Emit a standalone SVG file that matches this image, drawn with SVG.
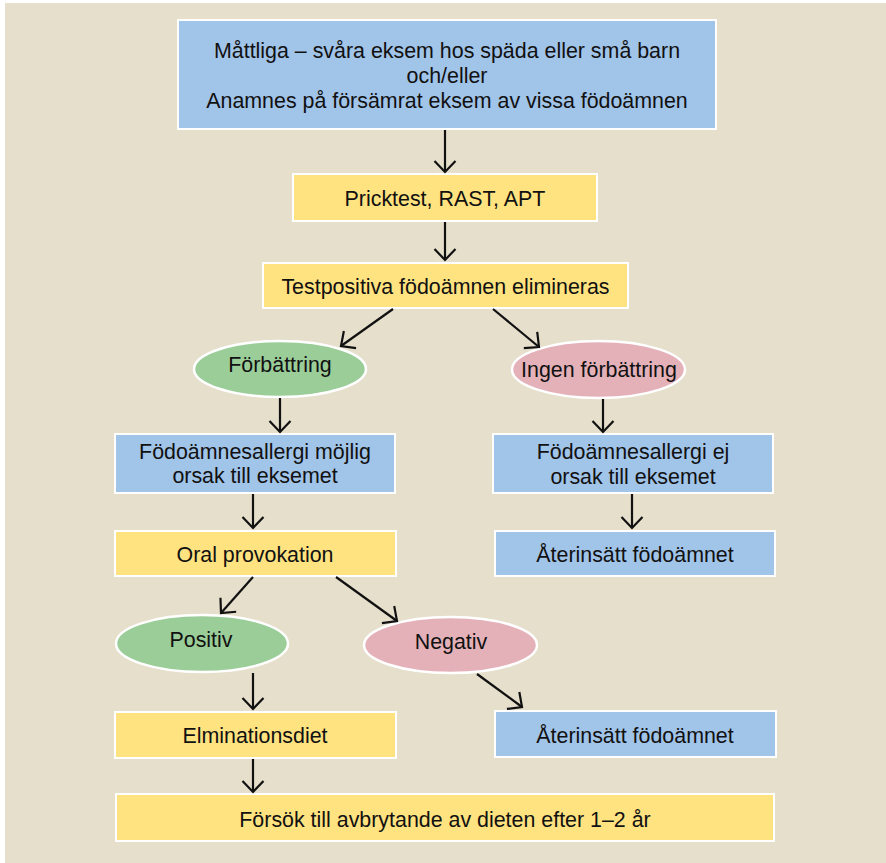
<svg xmlns="http://www.w3.org/2000/svg" width="886" height="863" viewBox="0 0 886 863">
  <style>
    .bg { fill: #E6DFCC; }
    .blue { fill: #A1C4E9; stroke: #FFFFFF; stroke-width: 2; }
    .yellow { fill: #FFE380; stroke: #FFFFFF; stroke-width: 2; }
    .green { fill: #9BCD99; stroke: #FFFFFF; stroke-width: 2.5; }
    .pink { fill: #E5B1B9; stroke: #FFFFFF; stroke-width: 2.5; }
    text { font-family: "Liberation Sans", Arial, Helvetica, sans-serif; font-size: 21.4px; fill: #111111; text-anchor: middle; }
    .conn line { stroke: #111111; stroke-width: 2.2; fill: none; marker-end: url(#arrow); }
  </style>
  <defs>
    <marker id="arrow" markerUnits="userSpaceOnUse" markerWidth="30" markerHeight="30" refX="0" refY="0" viewBox="-15 -15 30 30" orient="auto">
      <path d="M-11,-10.5 L0,0 L-11,10.5" fill="none" stroke="#111111" stroke-width="2.2" stroke-linejoin="miter"/>
    </marker>
  </defs>

  <rect class="bg" x="5" y="3" width="881" height="860"/>

  <g id="start">
    <rect class="blue" x="178" y="20" width="538" height="109"/>
    <text x="447" y="58">Måttliga – svåra eksem hos späda eller små barn</text>
    <text x="447" y="83">och/eller</text>
    <text x="447" y="108">Anamnes på försämrat eksem av vissa födoämnen</text>
  </g>

  <g id="pricktest">
    <rect class="yellow" x="293" y="174" width="304" height="47"/>
    <text x="445" y="206">Pricktest, RAST, APT</text>
  </g>

  <g id="eliminate">
    <rect class="yellow" x="263" y="263" width="365" height="45"/>
    <text x="445.5" y="294">Testpositiva födoämnen elimineras</text>
  </g>

  <g id="improved">
    <ellipse class="green" cx="280" cy="369" rx="86" ry="28"/>
    <text x="280" y="372">Förbättring</text>
  </g>

  <g id="not-improved">
    <ellipse class="pink" cx="598.5" cy="369.5" rx="86.5" ry="28.5"/>
    <text x="599" y="377">Ingen förbättring</text>
  </g>

  <g id="allergy-possible">
    <rect class="blue" x="115" y="434" width="280" height="59"/>
    <text x="255" y="459">Födoämnesallergi möjlig</text>
    <text x="255" y="483">orsak till eksemet</text>
  </g>

  <g id="allergy-not-cause">
    <rect class="blue" x="493" y="434" width="280" height="59"/>
    <text x="633" y="459">Födoämnesallergi ej</text>
    <text x="633" y="484">orsak till eksemet</text>
  </g>

  <g id="oral-provocation">
    <rect class="yellow" x="115" y="531" width="281" height="45"/>
    <text x="255" y="562">Oral provokation</text>
  </g>

  <g id="reintroduce-1">
    <rect class="blue" x="495" y="531" width="280" height="45"/>
    <text x="635" y="562">Återinsätt födoämnet</text>
  </g>

  <g id="positive">
    <ellipse class="green" cx="202" cy="643.5" rx="86" ry="28.5"/>
    <text x="201" y="647">Positiv</text>
  </g>

  <g id="negative">
    <ellipse class="pink" cx="450.5" cy="645" rx="86.5" ry="28"/>
    <text x="451" y="649">Negativ</text>
  </g>

  <g id="elimination-diet">
    <rect class="yellow" x="115" y="712" width="281" height="46"/>
    <text x="255" y="743">Elminationsdiet</text>
  </g>

  <g id="reintroduce-2">
    <rect class="blue" x="495" y="711" width="281" height="46"/>
    <text x="635" y="743">Återinsätt födoämnet</text>
  </g>

  <g id="stop-diet">
    <rect class="yellow" x="116" y="794" width="658" height="47"/>
    <text x="445" y="827">Försök till avbrytande av dieten efter 1–2 år</text>
  </g>

  <g id="connectors" class="conn">
    <line x1="445" y1="130" x2="445" y2="172"/>
    <line x1="445" y1="222" x2="445" y2="260"/>
    <line x1="393" y1="309" x2="341" y2="346"/>
    <line x1="493" y1="309" x2="539" y2="347"/>
    <line x1="280" y1="398" x2="280" y2="432"/>
    <line x1="603" y1="399" x2="603" y2="432"/>
    <line x1="253" y1="494" x2="253" y2="528"/>
    <line x1="632" y1="494" x2="632" y2="528"/>
    <line x1="253" y1="577" x2="221" y2="613"/>
    <line x1="336" y1="577" x2="397" y2="621"/>
    <line x1="477" y1="674" x2="522" y2="707"/>
    <line x1="253" y1="673" x2="253" y2="709"/>
    <line x1="253" y1="759" x2="253" y2="792"/>
  </g>
</svg>
